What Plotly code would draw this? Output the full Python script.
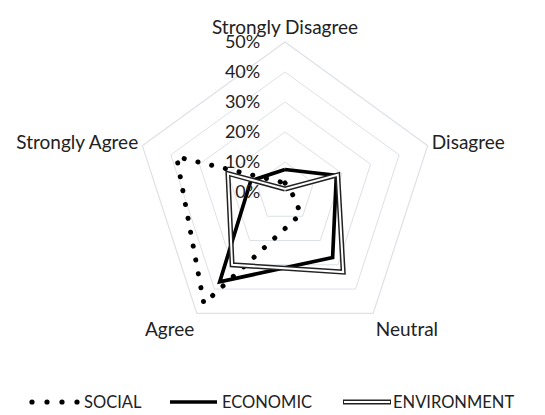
import plotly.graph_objects as go

categories = ["Strongly Disagree", "Disagree", "Neutral", "Agree", "Strongly Agree"]
social = [0.03, 0.02, 0.09, 0.46, 0.38]
economic = [0.075, 0.18, 0.27, 0.37, 0.12]
environment = [0.01, 0.185, 0.33, 0.30, 0.20]
radial_ticks = [0, 0.1, 0.2, 0.3, 0.4, 0.5]
legend_names = ["SOCIAL", "ECONOMIC", "ENVIRONMENT"]

FONT = "Lato"
W, H = 545, 415

def closed(v):
    return list(v) + [v[0]]

theta = closed(categories)

fig = go.Figure()
fig.add_trace(go.Scatterpolar(r=closed(social), theta=theta, mode="lines",
                              line=dict(color="black", width=5, dash="0px,14px"),
                              name=legend_names[0], showlegend=False))
fig.add_trace(go.Scatterpolar(r=closed(economic), theta=theta, mode="lines",
                              line=dict(color="black", width=3.7),
                              name=legend_names[1], showlegend=False))
fig.add_trace(go.Scatterpolar(r=closed(environment), theta=theta, mode="lines",
                              line=dict(color="#222222", width=5),
                              name=legend_names[2], showlegend=False))
fig.add_trace(go.Scatterpolar(r=closed(environment), theta=theta, mode="lines",
                              line=dict(color="white", width=2),
                              name=legend_names[2] + "_inner", showlegend=False))

cx, cy, R = 285, 192, 150
fig.update_layout(
    width=W, height=H,
    margin=dict(l=0, r=0, t=0, b=0),
    paper_bgcolor="white",
    font=dict(family=FONT, size=17, color="#222222"),
    polar=dict(
        domain=dict(x=[(cx - R) / W, (cx + R) / W], y=[1 - (cy + R) / H, 1 - (cy - R) / H]),
        gridshape="linear",
        bgcolor="white",
        angularaxis=dict(rotation=90, direction="clockwise", showline=True,
                         linecolor="#dde1e6", linewidth=1.2, showgrid=False,
                         ticks="", tickfont=dict(size=19, family=FONT)),
        radialaxis=dict(range=[0, 0.5], tickvals=radial_ticks, tickformat=".0%",
                        angle=90, tickangle=90, side="counterclockwise",
                        showline=False, gridcolor="#dde1e6", gridwidth=1.2,
                        ticks="outside", ticklen=18, tickcolor="rgba(0,0,0,0)",
                        tickfont=dict(size=18, family=FONT)),
    ),
)

# manual legend
ly = 1 - 402 / H
for x in [32, 47, 62, 77]:
    fig.add_shape(type="circle", xref="paper", yref="paper",
                  x0=(x - 2.6) / W, x1=(x + 2.6) / W, y0=ly - 2.6 / H, y1=ly + 2.6 / H,
                  fillcolor="black", line=dict(width=0))
fig.add_annotation(x=82 / W, y=ly, xref="paper", yref="paper", text=legend_names[0],
                   showarrow=False, xanchor="left", yanchor="middle", font=dict(size=16.5))
fig.add_shape(type="line", xref="paper", yref="paper", x0=170 / W, x1=217 / W, y0=ly, y1=ly,
              line=dict(color="black", width=3.7))
fig.add_annotation(x=220 / W, y=ly, xref="paper", yref="paper", text=legend_names[1],
                   showarrow=False, xanchor="left", yanchor="middle", font=dict(size=16.5))
fig.add_shape(type="line", xref="paper", yref="paper", x0=343 / W, x1=391 / W, y0=ly, y1=ly,
              line=dict(color="#222222", width=5))
fig.add_shape(type="line", xref="paper", yref="paper", x0=344 / W, x1=390 / W, y0=ly, y1=ly,
              line=dict(color="white", width=2))
fig.add_annotation(x=391 / W, y=ly, xref="paper", yref="paper", text=legend_names[2],
                   showarrow=False, xanchor="left", yanchor="middle", font=dict(size=16.5))

post = """
var lines = document.querySelectorAll('.scatterlayer .trace');
if (lines.length) { lines[0].querySelectorAll('path').forEach(function(p){ p.style.strokeLinecap='round'; p.style.strokeDasharray='0.1px,14px'; }); }
"""
fig.write_html("out.html", post_script=post)
